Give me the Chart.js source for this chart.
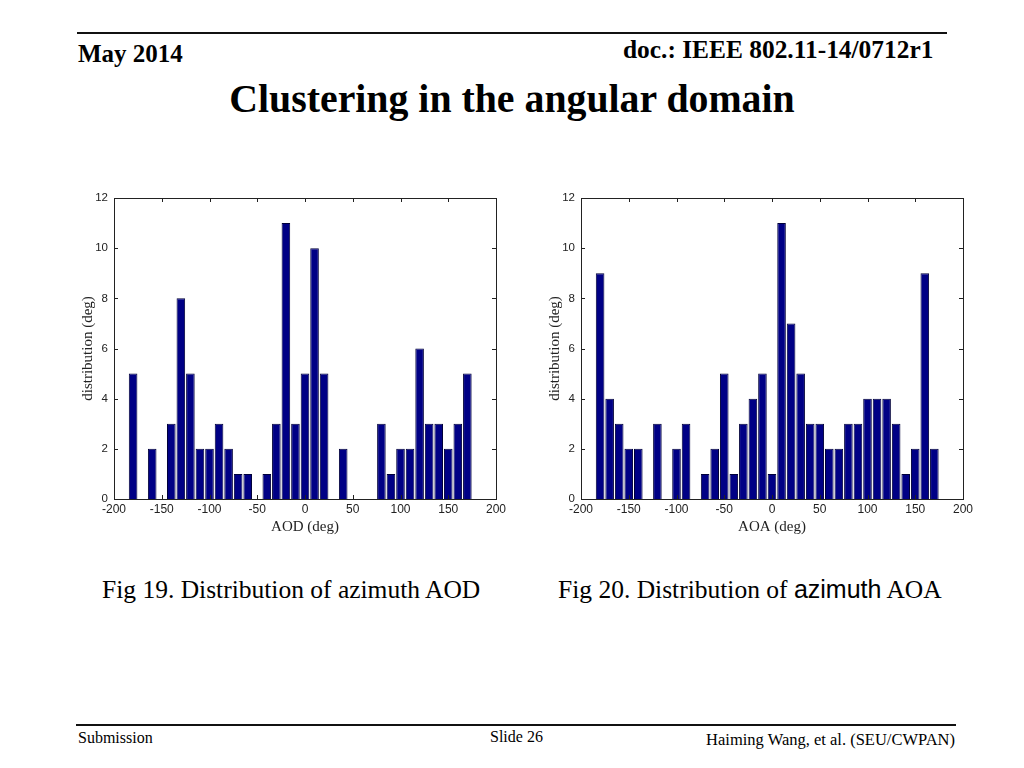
<!DOCTYPE html>
<html>
<head>
<meta charset="utf-8">
<script src="https://cdn.jsdelivr.net/npm/chart.js@4.4.1/dist/chart.umd.min.js"></script>
<style>
  body { margin: 0; width: 1024px; height: 768px; background: #fff; position: relative; overflow: hidden; font-family: 'Liberation Serif', 'Times New Roman', serif; color: #000; }
  .t { position: absolute; white-space: nowrap; line-height: 1; }
  .rule { position: absolute; height: 2px; background: #111; }
  .box { position: absolute; width: 440px; height: 355px; }
</style>
</head>
<body>
<div class="rule" style="left:77px; top:32px; width:870px;"></div>
<div class="t" style="left:78px; top:41px; font-size:25px; font-weight:bold;">May 2014</div>
<div class="t" style="left:623px; top:37px; font-size:25.4px; font-weight:bold;">doc.: IEEE 802.11-14/0712r1</div>
<div class="t" style="left:0; width:1024px; text-align:center; top:80px; font-size:39.8px; font-weight:bold;">Clustering in the angular domain</div>

<div class="box" style="left:70px; top:185px;"><canvas id="aodChart" width="440" height="355"></canvas></div>
<div class="box" style="left:537px; top:185px;"><canvas id="aoaChart" width="440" height="355"></canvas></div>

<div class="t" style="left:102px; top:577px; font-size:25.5px;">Fig 19. Distribution of azimuth AOD</div>
<div class="t" style="left:558px; top:577px; font-size:25.5px;">Fig 20. Distribution of <span style="font-family:'Liberation Sans', Arial, sans-serif; font-size:25px;">azimuth</span> AOA</div>

<div class="rule" style="left:76px; top:724px; width:880px;"></div>
<div class="t" style="left:78px; top:730px; font-size:16px;">Submission</div>
<div class="t" style="left:490px; top:729px; font-size:16px;">Slide 26</div>
<div class="t" style="left:655px; width:300px; text-align:right; top:732px; font-size:16.5px;">Haiming Wang, et al. (SEU/CWPAN)</div>

<script>
// bin centres (deg) shared by both histograms
const binCentres = [-180, -170, -160, -150, -140, -130, -120, -110, -100, -90, -80, -70, -60, -50, -40, -30, -20, -10,
                    0, 10, 20, 30, 40, 50, 60, 70, 80, 90, 100, 110, 120, 130, 140, 150, 160, 170];
const aodCounts = [5, 0, 2, 0, 3, 8, 5, 2, 2, 3, 2, 1, 1, 0, 1, 3, 11, 3,
                   5, 10, 5, 0, 2, 0, 0, 0, 3, 1, 2, 2, 6, 3, 3, 2, 3, 5];
const aoaCounts = [9, 4, 3, 2, 2, 0, 3, 0, 2, 3, 0, 1, 2, 5, 1, 3, 4, 5,
                   1, 11, 7, 5, 3, 3, 2, 2, 3, 3, 4, 4, 4, 3, 1, 2, 9, 2];
const xTicks = [-200, -150, -100, -50, 0, 50, 100, 150, 200];
const yTicks = [0, 2, 4, 6, 8, 10, 12];

// matlab style box with inward ticks
const frame = {
  id: 'frame',
  afterDraw(chart) {
    const ctx = chart.ctx, a = chart.chartArea;
    const xs = chart.scales.x, ys = chart.scales.y;
    ctx.save();
    ctx.strokeStyle = '#222';
    ctx.lineWidth = 1;
    ctx.strokeRect(Math.round(a.left) + 0.5, Math.round(a.top) + 0.5, Math.round(a.right - a.left), Math.round(a.bottom - a.top));
    ctx.beginPath();
    xTicks.forEach(function(v) {
      let px = Math.round(xs.getPixelForValue(v)) + 0.5;
      ctx.moveTo(px, a.top); ctx.lineTo(px, a.top + 4);
      ctx.moveTo(px, a.bottom); ctx.lineTo(px, a.bottom - 4);
    });
    yTicks.forEach(function(v) {
      let py = Math.round(ys.getPixelForValue(v)) + 0.5;
      ctx.moveTo(a.left, py); ctx.lineTo(a.left + 4, py);
      ctx.moveTo(a.right, py); ctx.lineTo(a.right - 4, py);
    });
    ctx.stroke();
    ctx.restore();
  }
};

function makeHist(id, counts, xLabel) {
  let pts = [];
  for (let i = 0; i < binCentres.length; i++) {
    if (counts[i] > 0) pts.push({x: binCentres[i], y: counts[i]});
  }
  return new Chart(document.getElementById(id), {
    type: 'bar',
    data: {
      datasets: [{
        data: pts,
        backgroundColor: '#000085',
        borderColor: '#00003a',
        borderWidth: 1,
        barPercentage: 0.9,
        categoryPercentage: 1
      }]
    },
    plugins: [frame],
    options: {
      responsive: false,
      animation: false,
      layout: { padding: { top: 13, right: 14, left: 0, bottom: 0 } },
      plugins: { legend: { display: false }, tooltip: { enabled: false } },
      scales: {
        x: {
          type: 'linear', min: -200, max: 200, offset: false,
          afterBuildTicks: function(s) { s.ticks = xTicks.map(v => ({value: v})); },
          afterFit: function(s) { s.height = 41; },
          grid: { display: false, drawTicks: false },
          border: { display: false },
          ticks: { padding: 3, color: '#222', maxRotation: 0, autoSkip: false, font: { family: 'Liberation Sans', size: 12 } },
          title: { display: true, text: xLabel, color: '#222', padding: { top: 0, bottom: 4 }, font: { family: 'Liberation Serif', size: 15 } }
        },
        y: {
          min: 0, max: 12,
          afterBuildTicks: function(s) { s.ticks = yTicks.map(v => ({value: v})); },
          afterFit: function(s) { s.width = 44; },
          grid: { display: false, drawTicks: false },
          border: { display: false },
          ticks: { padding: 6, color: '#222', font: { family: 'Liberation Sans', size: 11.5 } },
          title: { display: true, text: 'distribution (deg)', color: '#222', padding: { top: 9, bottom: 0 }, font: { family: 'Liberation Serif', size: 15 } }
        }
      }
    }
  });
}

makeHist('aodChart', aodCounts, 'AOD (deg)');
makeHist('aoaChart', aoaCounts, 'AOA (deg)');
</script>
</body>
</html>
